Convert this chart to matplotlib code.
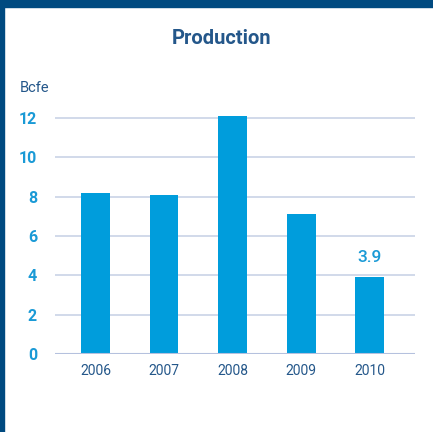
import matplotlib
matplotlib.use('Agg')
import matplotlib.pyplot as plt
from matplotlib.patches import Rectangle

anos = ['2006', '2007', '2008', '2009', '2010']
produccion = [8.2, 8.1, 12.1, 7.1, 3.9]
ticks_y = [0, 2, 4, 6, 8, 10, 12]
etiqueta_ultimo = '3.9'

azul_barra = '#009ddc'
azul_oscuro = '#004a80'
azul_texto = '#24578a'
azul_ticks = '#1a9ad6'
gris_rejilla = '#c9d3e6'

plt.rcParams['font.family'] = ['Roboto', 'DejaVu Sans']

fig = plt.figure(figsize=(4.33, 4.32), dpi=100)

# marco azul arriba y a la izquierda
fig.patches.append(Rectangle((0, 1 - 7 / 432), 1, 7 / 432, transform=fig.transFigure,
                             color=azul_oscuro, zorder=0))
fig.patches.append(Rectangle((0, 0), 4 / 433, 1, transform=fig.transFigure,
                             color=azul_oscuro, zorder=0))

escala = 19.67  # px por unidad
abajo = 354
ymax = 12.5
ax = fig.add_axes([55 / 433, (432 - abajo) / 432, 360 / 433, ymax * escala / 432])

x = range(len(anos))
ax.bar(x, produccion, width=0.42, color=azul_barra, zorder=3)
ax.set_xlim(-0.59, 4.66)
ax.set_ylim(0, ymax)

ax.set_yticks(ticks_y)
ax.set_yticklabels([str(t) for t in ticks_y], color=azul_ticks, fontsize=11.5,
                   fontweight='bold')
ax.set_xticks(list(x))
ax.set_xticklabels(anos, color=azul_texto, fontsize=10)
ax.tick_params(length=0)
ax.tick_params(axis='y', pad=13)
ax.tick_params(axis='x', pad=7)

for t in ticks_y:
    ax.axhline(t, color=gris_rejilla, lw=1.2, zorder=1)
for s in ax.spines.values():
    s.set_visible(False)
ax.axhline(0, color='#b5c1de', lw=1.5, zorder=4)

ax.text(4, produccion[-1] + 0.65, etiqueta_ultimo, ha='center', va='bottom',
        color=azul_ticks, fontsize=12.5, fontweight='medium')

fig.text(20 / 433, 1 - 88 / 432, 'Bcfe', ha='left', va='center', color=azul_texto,
         fontsize=10.5)
fig.text(222 / 433, 1 - 39 / 432, 'Production', ha='center', va='center',
         color=azul_texto, fontsize=14.5, fontweight='bold')

fig.savefig('out.png', dpi=100)
